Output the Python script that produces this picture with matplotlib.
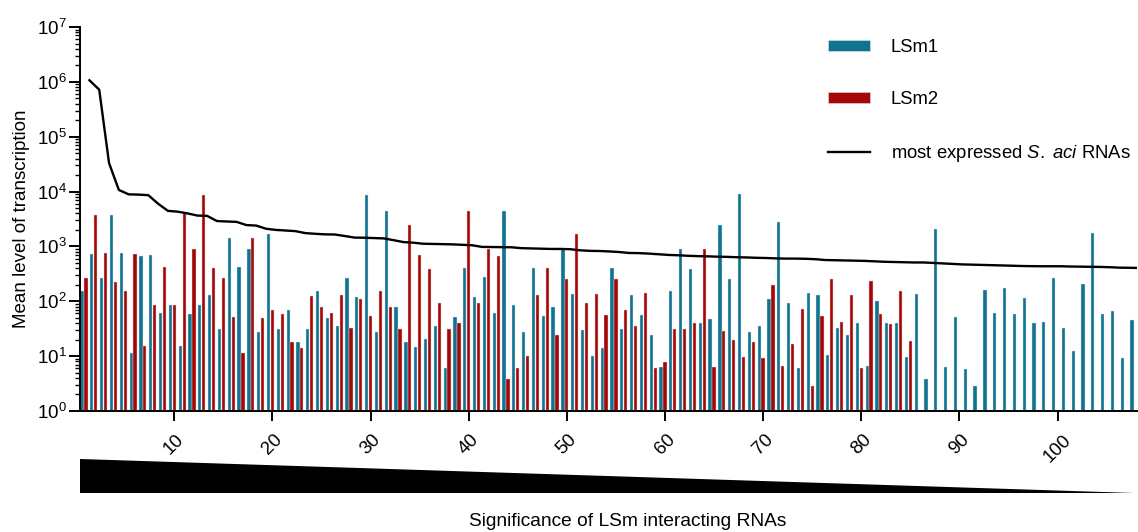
import numpy as np
import matplotlib
matplotlib.use('Agg')
import matplotlib.pyplot as plt
from matplotlib.patches import Polygon, Patch
from matplotlib.lines import Line2D
from matplotlib.ticker import LogLocator, NullFormatter

plt.rcParams['font.family'] = ['Liberation Sans', 'DejaVu Sans']
plt.rcParams['mathtext.fontset'] = 'custom'
plt.rcParams['mathtext.rm'] = 'Liberation Sans'
plt.rcParams['mathtext.it'] = 'Liberation Sans:italic'

# LSm1 values for RNAs ranked by significance (1..108)
lsm1 = [155, 740, 269, 3720, 760, 11.4, 665, 690, 62, 84,
        15.3, 58, 84, 130, 31, 1400, 420, 915, 28, 1650,
        31, 68, 18, 31, 154, 49, 36, 269, 120, 8600,
        27, 4350, 80, 18.4, 14.9, 20.5, 35, 6, 52, 408,
        121, 280, 60, 4380, 85, 27, 408, 55, 80, 890,
        134, 30, 10, 14.3, 400, 31, 130, 57, 24, 6.4,
        154, 890, 380, 40.6, 48, 2450, 257, 8900, 27, 36,
        108, 2800, 94, 6, 143, 128, 10.6, 33, 24, 40.6,
        6.7, 102, 40.6, 40.6, 9.8, 134, 3.8, 2080, 6.4, 52,
        5.9, 2.9, 160, 62, 174, 58, 113, 40, 41.5, 262,
        33, 12.4, 203, 1740, 58, 67, 9.4, 45]

# LSm2 values (1..85)
lsm2 = [269, 3720, 760, 228, 155, 740, 15.3, 84, 420, 84,
        4200, 915, 8600, 410, 269, 51, 11.4, 1400, 49, 68,
        59, 18, 14.3, 124, 80, 62, 128, 33, 108, 55,
        154, 80, 31, 2450, 690, 380, 94, 31, 41, 4380,
        94, 890, 665, 3.8, 6, 10, 128, 400, 24, 250,
        1660, 94, 134, 56, 257, 68, 36, 139, 6, 7.7,
        31, 31, 40.6, 890, 6.4, 28.6, 19.6, 9.8, 18.3, 9.1,
        198, 6.7, 17, 73, 2.9, 53, 250, 42, 128, 6,
        237, 58, 38.5, 154, 18.6]

# most expressed S. aci RNAs (1..108)
most_expressed = [1070000, 720000, 33000, 10700, 8900, 8800, 8600, 6000, 4450, 4300,
                  4000, 3650, 3600, 2900, 2850, 2800, 2450, 2400, 2100, 2000,
                  1950, 1900, 1750, 1700, 1660, 1650, 1550, 1450, 1440, 1420,
                  1400, 1300, 1200, 1170, 1120, 1110, 1100, 1090, 1070, 1050,
                  980, 975, 970, 965, 930, 920, 910, 900, 900, 890,
                  850, 830, 825, 810, 790, 760, 755, 740, 720, 700,
                  690, 675, 665, 660, 650, 645, 635, 630, 620, 615,
                  605, 600, 600, 595, 585, 565, 560, 555, 550, 545,
                  535, 525, 520, 515, 510, 510, 500, 490, 480, 470,
                  465, 460, 455, 450, 445, 440, 437, 435, 435, 435,
                  430, 428, 425, 423, 418, 410, 408, 405]

xtick_vals = [10, 20, 30, 40, 50, 60, 70, 80, 90, 100]

teal = '#11738F'
red = '#A30808'

fig = plt.figure(figsize=(11.38, 5.32), dpi=100)
ax = fig.add_axes([80 / 1138, 121 / 532, 1057 / 1138, 384 / 532])

x1 = np.arange(1, len(lsm1) + 1)
x2 = np.arange(1, len(lsm2) + 1)
x3 = np.arange(1, len(most_expressed) + 1)

ax.bar(x1 - 0.4, lsm1, width=0.33, color=teal, edgecolor='#d5e6ec', linewidth=0.3)
ax.bar(x2, lsm2, width=0.33, color=red, edgecolor='#f0d0d0', linewidth=0.3)
ax.plot(x3 + 0.35, most_expressed, color='black', lw=1.7)

ax.set_yscale('log')
ax.set_ylim(1, 1e7)
ax.set_xlim(0.39, 108.1)
ax.yaxis.set_major_locator(LogLocator(base=10, numticks=10))
ax.yaxis.set_minor_locator(LogLocator(base=10, subs=np.arange(2, 10), numticks=20))
ax.yaxis.set_minor_formatter(NullFormatter())

ax.set_xticks(xtick_vals)
ax.set_xticklabels([str(v) for v in xtick_vals], rotation=45, ha='center', va='top')

for s in ['top', 'right']:
    ax.spines[s].set_visible(False)
for s in ['left', 'bottom']:
    ax.spines[s].set_linewidth(1.4)

ax.tick_params(axis='y', which='major', length=8, width=1.4, labelsize=13.5, pad=1.5)
ax.tick_params(axis='y', which='minor', length=3.5, width=1.0)
ax.tick_params(axis='x', which='major', length=7.5, width=1.4, labelsize=13.5, pad=7)

ax.set_ylabel('Mean level of transcription', fontsize=13.5, labelpad=5)

# significance wedge below the axis
wedge = Polygon([[0, -0.125], [0, -0.2135], [0.9972, -0.2135]], closed=True,
                transform=ax.transAxes, facecolor='black', edgecolor='none', clip_on=False)
ax.add_patch(wedge)

fig.text(628 / 1138, (532 - 521.7) / 532, 'Significance of LSm interacting RNAs',
         ha='center', va='center', fontsize=13.8)

handles = [Patch(facecolor=teal, edgecolor='#d5e6ec', linewidth=0.4),
           Patch(facecolor=red, edgecolor='#f0d0d0', linewidth=0.4),
           Line2D([], [], color='black', lw=1.7)]
labels = ['LSm1', 'LSm2', r'most expressed $\mathit{S.}$ $\mathit{aci}$ RNAs']
ax.legend(handles, labels, loc='upper left', bbox_to_anchor=(828 / 1138, (532 - 39) / 532),
          bbox_transform=fig.transFigure, frameon=False, fontsize=13.3,
          handlelength=2.25, handleheight=0.55, handletextpad=1.15,
          labelspacing=1.9, borderpad=0, borderaxespad=0)

fig.savefig('out.png', dpi=100)
